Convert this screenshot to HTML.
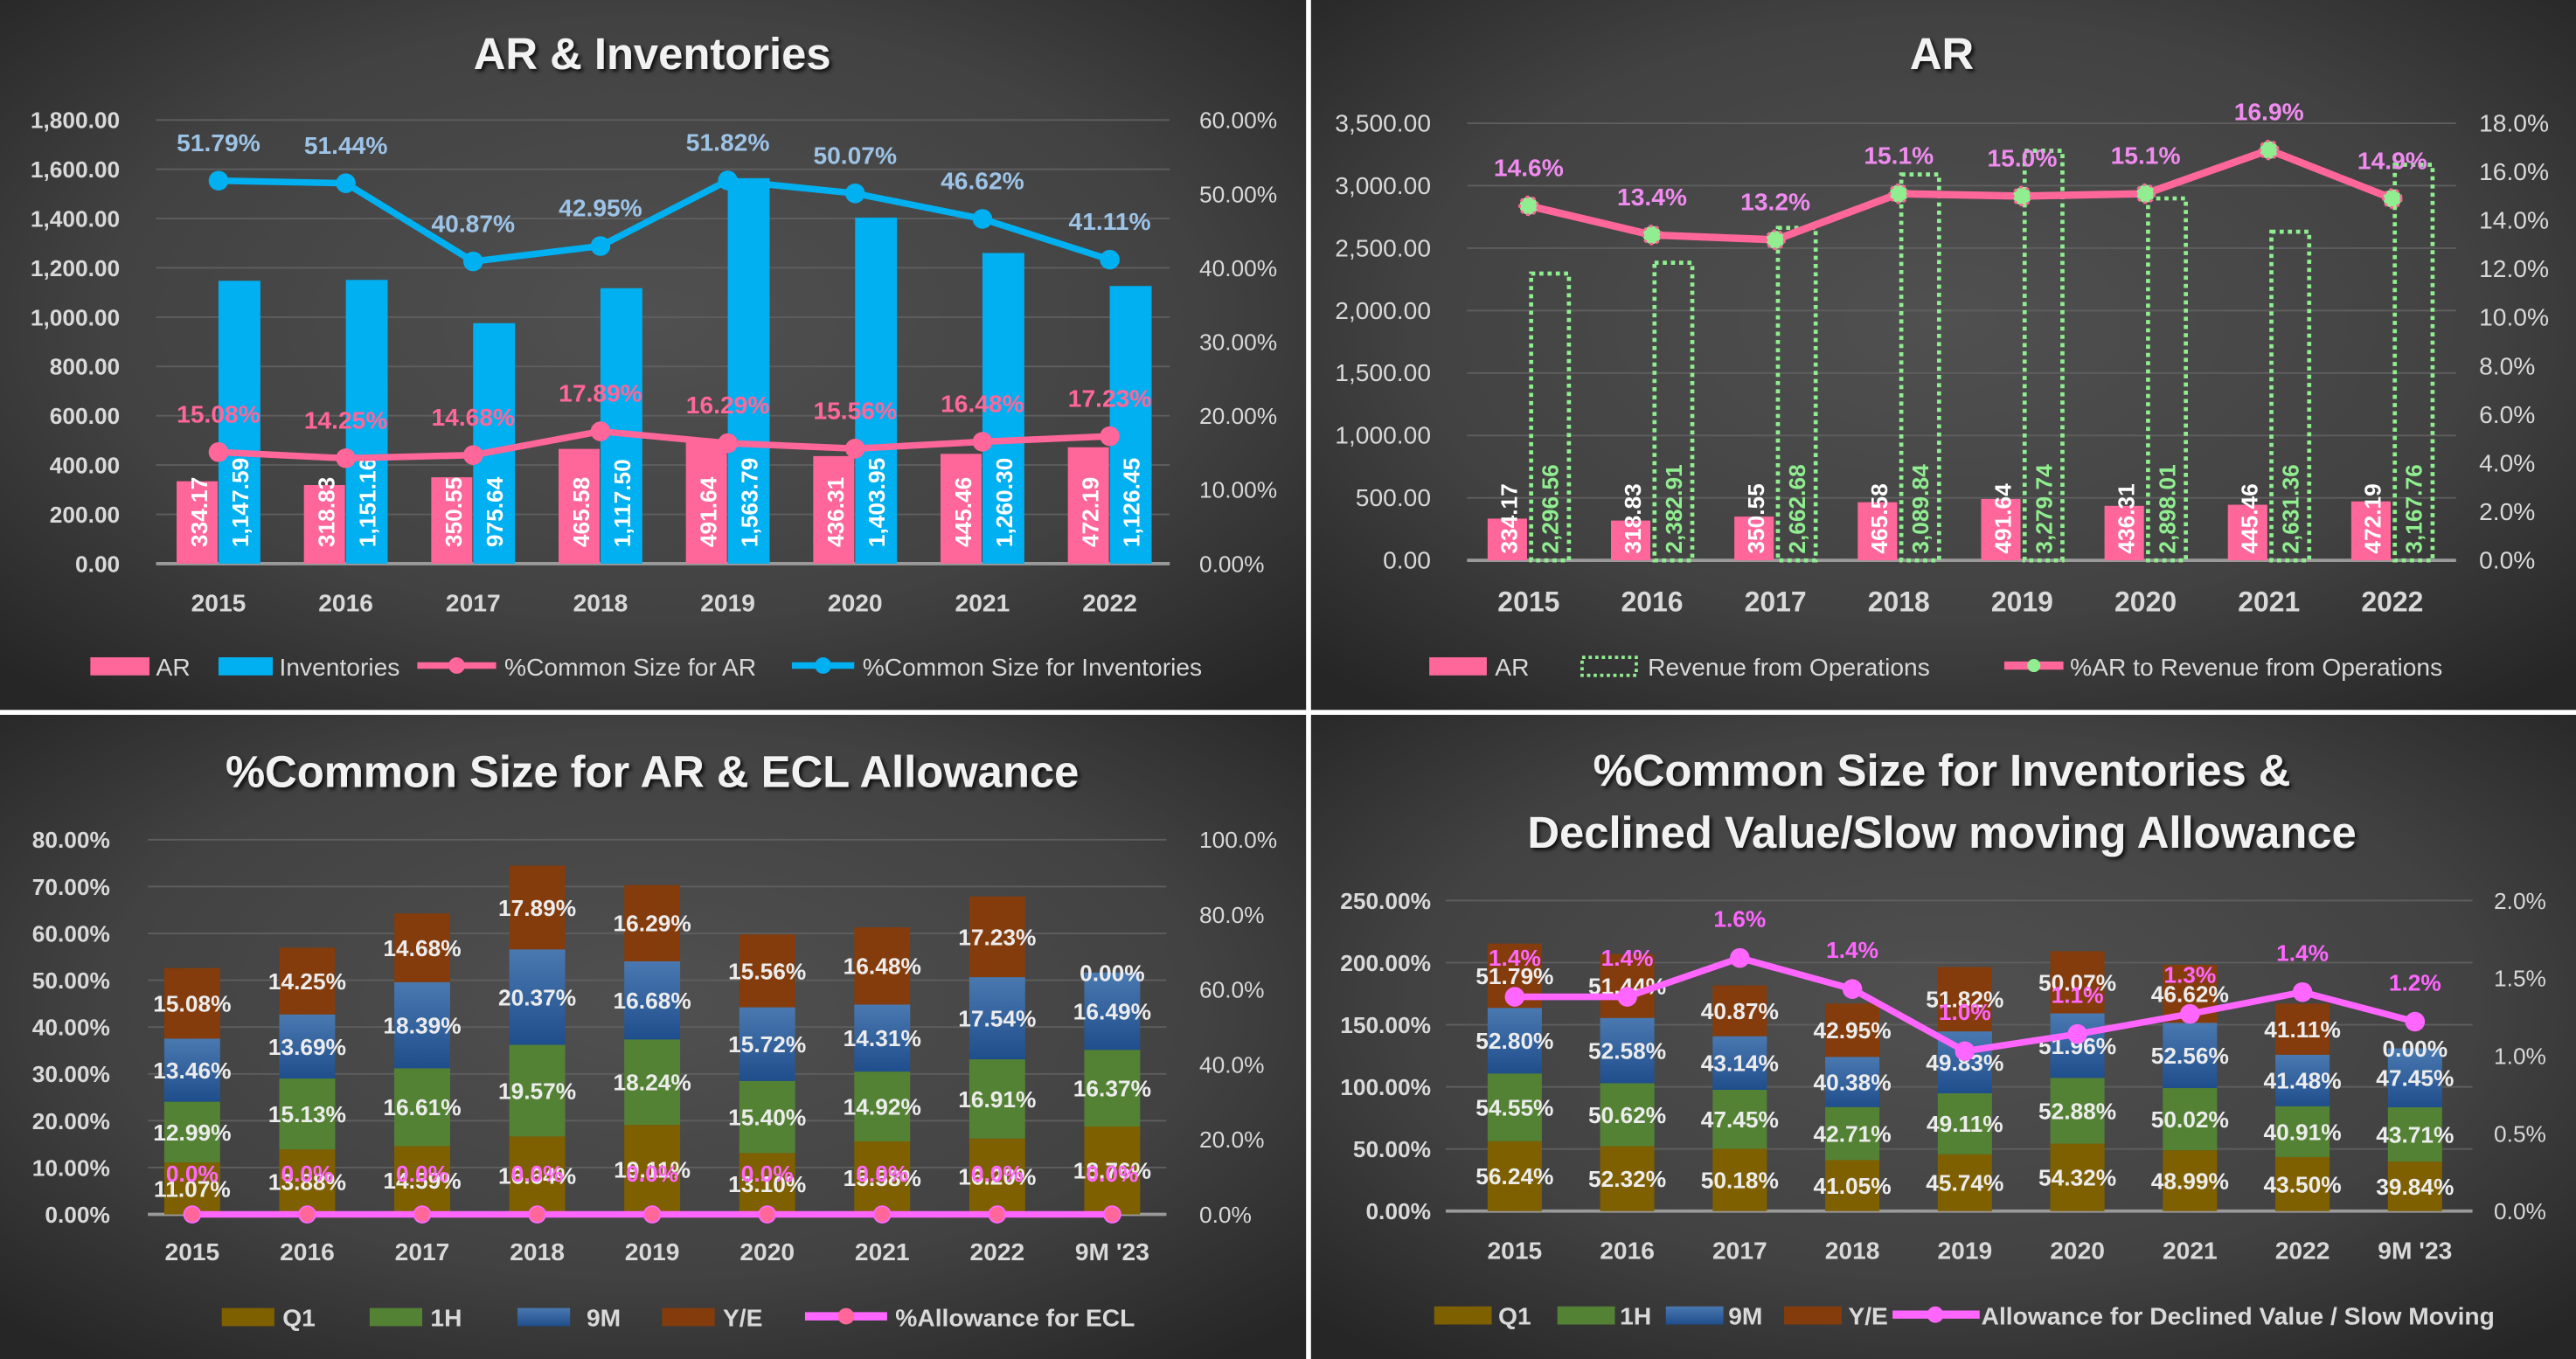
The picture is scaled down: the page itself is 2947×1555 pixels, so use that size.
<!DOCTYPE html>
<html><head><meta charset="utf-8">
<style>
html,body{margin:0;padding:0;background:#2b2b2b;}
svg{display:block;}
text{font-family:"Liberation Sans Narrow","Liberation Sans",sans-serif;}
</style></head>
<body>
<svg id="root" width="2947" height="1555" viewBox="0 0 1568 827" preserveAspectRatio="none" xmlns="http://www.w3.org/2000/svg">
<defs>
<radialGradient id="bg" cx="50%" cy="45%" r="70%">
<stop offset="0" stop-color="#505050"/><stop offset="0.6" stop-color="#424242"/><stop offset="1" stop-color="#262626"/>
</radialGradient>
<linearGradient id="blueG" x1="0" y1="0" x2="0" y2="1"><stop offset="0" stop-color="#4a78b0"/><stop offset="1" stop-color="#1f4e8c"/></linearGradient>
<filter id="sh" x="-10%" y="-10%" width="120%" height="130%"><feDropShadow dx="1.5" dy="1.5" stdDeviation="1.2" flood-color="#000" flood-opacity="0.8"/></filter>
</defs>
<rect x="0" y="0" width="1568" height="827" fill="#ffffff"/>
<rect x="0" y="0" width="795" height="432" fill="url(#bg)"/>
<rect x="798" y="0" width="770" height="432" fill="url(#bg)"/>
<rect x="0" y="435" width="795" height="392" fill="url(#bg)"/>
<rect x="798" y="435" width="770" height="392" fill="url(#bg)"/>
<g id="g"></g>
</svg>
<script>
// ---- Chart 1: AR & Inventories ----
const c1Cats = ['2015','2016','2017','2018','2019','2020','2021','2022'];
const c1AR = [334.17,318.83,350.55,465.58,491.64,436.31,445.46,472.19];
const c1Inv = [1147.59,1151.16,975.64,1117.50,1563.79,1403.95,1260.30,1126.45];
const c1PctAR = [15.08,14.25,14.68,17.89,16.29,15.56,16.48,17.23];
const c1PctInv = [51.79,51.44,40.87,42.95,51.82,50.07,46.62,41.11];
const c1LeftTicks = [0,200,400,600,800,1000,1200,1400,1600,1800];
const c1RightTicks = [0,10,20,30,40,50,60];
// ---- Chart 2: AR vs Revenue ----
const c2Cats = ['2015','2016','2017','2018','2019','2020','2021','2022'];
const c2AR = [334.17,318.83,350.55,465.58,491.64,436.31,445.46,472.19];
const c2Rev = [2296.56,2382.91,2662.68,3089.84,3279.74,2898.01,2631.36,3167.76];
const c2Pct = [14.6,13.4,13.2,15.1,15.0,15.1,16.9,14.9];
const c2LeftTicks = [0,500,1000,1500,2000,2500,3000,3500];
const c2RightTicks = [0,2,4,6,8,10,12,14,16,18];
// ---- Chart 3: %Common size AR & ECL ----
const c3Cats = ['2015','2016','2017','2018','2019','2020','2021','2022',"9M '23"];
const c3Q1 = [11.07,13.88,14.59,16.64,19.11,13.10,15.58,16.20,18.76];
const c3H1 = [12.99,15.13,16.61,19.57,18.24,15.40,14.92,16.91,16.37];
const c3M9 = [13.46,13.69,18.39,20.37,16.68,15.72,14.31,17.54,16.49];
const c3YE = [15.08,14.25,14.68,17.89,16.29,15.56,16.48,17.23,0.00];
const c3ECL = [0,0,0,0,0,0,0,0,0];
const c3LeftTicks = [0,10,20,30,40,50,60,70,80];
const c3RightTicks = [0,20,40,60,80,100];
// ---- Chart 4: %Common size Inventories & allowance ----
const c4Cats = ['2015','2016','2017','2018','2019','2020','2021','2022',"9M '23"];
const c4Q1 = [56.24,52.32,50.18,41.05,45.74,54.32,48.99,43.50,39.84];
const c4H1 = [54.55,50.62,47.45,42.71,49.11,52.88,50.02,40.91,43.71];
const c4M9 = [52.80,52.58,43.14,40.38,49.83,51.96,52.56,41.48,47.45];
const c4YE = [51.79,51.44,40.87,42.95,51.82,50.07,46.62,41.11,0.00];
const c4Allow = [1.38,1.38,1.63,1.43,1.03,1.14,1.27,1.41,1.22];
const c4LeftTicks = [0,50,100,150,200,250];
const c4RightTicks = [0,0.5,1.0,1.5,2.0];

const NS='http://www.w3.org/2000/svg';
const G=document.getElementById('g');
function mk(tag,attrs,name,parent){
  const el=document.createElementNS(NS,tag);
  for(const k in attrs) el.setAttribute(k,attrs[k]);
  
  
  (parent||G).appendChild(el);
  return el;
}
function txt(x,y,s,attrs,name){
  const a=Object.assign({x:x,y:y,fill:'#d9d9d9','font-size':14,'font-weight':'bold','text-anchor':'middle'},attrs||{});
  const t=mk('text',a,name);
  t.textContent=s;
  return t;
}
function fmt(v,d){return v.toLocaleString('en-US',{minimumFractionDigits:d,maximumFractionDigits:d});}
function title(x,y,s,name){txt(x,y,s,{fill:'#f2f2f2','font-size':27,'font-family':'"Liberation Sans",sans-serif',filter:'url(#sh)'},name);}
function grid(x1,x2,ticks,yf,name){
  ticks.forEach((t,i)=>{mk('line',{x1:x1,x2:x2,y1:yf(t),y2:yf(t),stroke:i===0?'#9a9a9a':'#5e5e5e','stroke-width':i===0?2:1},name);});
}
function lineSeries(pts,color,w,name){
  mk('polyline',{points:pts.map(p=>p.join(',')).join(' '),fill:'none',stroke:color,'stroke-width':w,'stroke-linejoin':'round'},name);
}

// ===== Chart 1 =====
(function(){
  const x0=95,x1=712,y0=343,yT=73;
  const yL=v=>y0-v/1800*(y0-yT), yR=v=>y0-v/60*(y0-yT);
  const cx=i=>133+i*77.5;
  title(397,42,'AR & Inventories','title-ar-inventories');
  grid(x0,x1,c1LeftTicks,yL,'gridline');
  c1LeftTicks.forEach(t=>txt(73,yL(t)+5,fmt(t,2),{'text-anchor':'end'},'y-axis-left-tick'));
  c1RightTicks.forEach(t=>txt(730,yR(t)+5,fmt(t,2)+'%',{'text-anchor':'start','font-weight':'normal'},'y-axis-right-tick'));
  c1Cats.forEach((c,i)=>{
    mk('rect',{x:cx(i)-25.5,y:yL(c1AR[i]),width:25,height:y0-yL(c1AR[i]),fill:'#ff6699'},'bar-ar-'+c);
    mk('rect',{x:cx(i),y:yL(c1Inv[i]),width:25.5,height:y0-yL(c1Inv[i]),fill:'#00b0f0'},'bar-inventories-'+c);
    txt(0,0,fmt(c1AR[i],2),{transform:`translate(${cx(i)-7},${y0-10}) rotate(-90)`,'text-anchor':'start',fill:'#fff','font-size':14,'font-family':'"Liberation Sans",sans-serif'},'label-ar-'+c);
    txt(0,0,fmt(c1Inv[i],2),{transform:`translate(${cx(i)+18},${y0-10}) rotate(-90)`,'text-anchor':'start',fill:'#fff','font-size':14,'font-family':'"Liberation Sans",sans-serif'},'label-inventories-'+c);
    txt(cx(i),372,c,{fill:'#d9d9d9','font-size':15},'x-axis-label');
  });
  const pa=c1PctAR.map((v,i)=>[cx(i),yR(v)]), pi=c1PctInv.map((v,i)=>[cx(i),yR(v)]);
  lineSeries(pa,'#ff6699',4,'line-common-size-ar');
  lineSeries(pi,'#00b0f0',4,'line-common-size-inventories');
  pa.forEach((p,i)=>{mk('circle',{cx:p[0],cy:p[1],r:6,fill:'#ff6699'},'point-common-size-ar');txt(p[0],p[1]-18,fmt(c1PctAR[i],2)+'%',{fill:'#ff6699','font-size':15},'label-common-size-ar');});
  pi.forEach((p,i)=>{mk('circle',{cx:p[0],cy:p[1],r:6,fill:'#00b0f0'},'point-common-size-inventories');txt(p[0],p[1]-18,fmt(c1PctInv[i],2)+'%',{fill:'#9dc3e6','font-size':15},'label-common-size-inventories');});
  // legend
  mk('rect',{x:55,y:400,width:36,height:11,fill:'#ff6699'},'legend-ar');
  txt(95,411,'AR',{'text-anchor':'start','font-weight':'normal','font-size':15},'legend-ar-text');
  mk('rect',{x:133,y:400,width:33,height:11,fill:'#00b0f0'},'legend-inventories');
  txt(170,411,'Inventories',{'text-anchor':'start','font-weight':'normal','font-size':15},'legend-inventories-text');
  mk('line',{x1:254,x2:302,y1:405,y2:405,stroke:'#ff6699','stroke-width':4},'legend-common-size-ar');
  mk('circle',{cx:278,cy:405,r:5,fill:'#ff6699'},'legend-common-size-ar-marker');
  txt(307,411,'%Common Size for AR',{'text-anchor':'start','font-weight':'normal','font-size':15},'legend-common-size-ar-text');
  mk('line',{x1:482,x2:520,y1:405,y2:405,stroke:'#00b0f0','stroke-width':4},'legend-common-size-inv');
  mk('circle',{cx:501,cy:405,r:5,fill:'#00b0f0'},'legend-common-size-inv-marker');
  txt(525,411,'%Common Size for Inventories',{'text-anchor':'start','font-weight':'normal','font-size':15},'legend-common-size-inv-text');
})();

// ===== Chart 2 =====
(function(){
  const x0=893,x1=1495,y0=341,yT=75;
  const yL=v=>y0-v/3500*(y0-yT), yR=v=>y0-v/18*(y0-yT);
  const cx=i=>930.5+i*75.1;
  title(1182,42,'AR','title-ar');
  grid(x0,x1,c2LeftTicks,yL,'gridline');
  c2LeftTicks.forEach(t=>txt(871,yL(t)+5,fmt(t,2),{'text-anchor':'end','font-weight':'normal','font-size':15},'y-axis-left-tick'));
  c2RightTicks.forEach(t=>txt(1509,yR(t)+5,fmt(t,1)+'%',{'text-anchor':'start','font-weight':'normal','font-size':15},'y-axis-right-tick'));
  c2Cats.forEach((c,i)=>{
    mk('rect',{x:cx(i)-25,y:yL(c2AR[i]),width:24,height:y0-yL(c2AR[i]),fill:'#ff6699'},'bar-ar-'+c);
    mk('rect',{x:cx(i)+1.5,y:yL(c2Rev[i]),width:23,height:y0-yL(c2Rev[i]),fill:'none',stroke:'#90ee90','stroke-width':2.5,'stroke-dasharray':'2.5 2.5'},'bar-revenue-'+c);
    txt(0,0,fmt(c2AR[i],2),{transform:`translate(${cx(i)-7},${y0-4}) rotate(-90)`,'text-anchor':'start',fill:'#fff','font-size':14,'font-family':'"Liberation Sans",sans-serif'},'label-ar-'+c);
    txt(0,0,fmt(c2Rev[i],2),{transform:`translate(${cx(i)+18},${y0-4}) rotate(-90)`,'text-anchor':'start',fill:'#90ee90','font-size':14,'font-family':'"Liberation Sans",sans-serif'},'label-revenue-'+c);
    txt(cx(i),372,c,{fill:'#d9d9d9','font-size':17},'x-axis-label');
  });
  const pp=c2Pct.map((v,i)=>[cx(i),yR(v)]);
  lineSeries(pp,'#ff6699',4.5,'line-ar-to-revenue');
  pp.forEach((p,i)=>{
    mk('circle',{cx:p[0],cy:p[1],r:5.5,fill:'#90ee90',stroke:'#ff6699','stroke-width':1.5,'stroke-dasharray':'2 2'},'point-ar-to-revenue');
    txt(p[0],p[1]-18,fmt(c2Pct[i],1)+'%',{fill:'#f08cf0','font-size':15},'label-ar-to-revenue');
  });
  mk('rect',{x:870,y:400,width:35,height:11,fill:'#ff6699'},'legend-ar');
  txt(910,411,'AR',{'text-anchor':'start','font-weight':'normal','font-size':15},'legend-ar-text');
  mk('rect',{x:963,y:400,width:33,height:11,fill:'none',stroke:'#90ee90','stroke-width':2,'stroke-dasharray':'2 2'},'legend-revenue');
  txt(1003,411,'Revenue from Operations',{'text-anchor':'start','font-weight':'normal','font-size':15},'legend-revenue-text');
  mk('line',{x1:1220,x2:1256,y1:405,y2:405,stroke:'#ff6699','stroke-width':5},'legend-ar-to-revenue');
  mk('circle',{cx:1238,cy:405,r:4,fill:'#90ee90'},'legend-ar-to-revenue-marker');
  txt(1260,411,'%AR to Revenue from Operations',{'text-anchor':'start','font-weight':'normal','font-size':15},'legend-ar-to-revenue-text');
})();

function stacked(cats,series,colors,names,yL,cx,bw,y0,fs){
  cats.forEach((c,i)=>{
    let acc=0;
    series.forEach((s,k)=>{
      const v=s[i];
      const top=yL(acc+v), bot=yL(acc);
      if(v>0) mk('rect',{x:cx(i)-bw/2,y:top,width:bw,height:bot-top,fill:colors[k]},'bar-'+names[k]+'-'+c);
      txt(cx(i),(top+bot)/2+5,fmt(v,2)+'%',{fill:'#ececec','font-size':fs},'label-'+names[k]+'-'+c);
      acc+=v;
    });
  });
}
const stackColors=['#7f6000','#548235','url(#blueG)','#843c0c'];

// ===== Chart 3 =====
(function(){
  const x0=90,x1=710,y0=739,yT=511;
  const yL=v=>y0-v/80*(y0-yT), yR=v=>y0-v/100*(y0-yT);
  const cx=i=>117+i*70;
  title(397,479,'%Common Size for AR & ECL Allowance','title-ar-ecl');
  grid(x0,x1,c3LeftTicks,yL,'gridline');
  c3LeftTicks.forEach(t=>txt(67,yL(t)+5,fmt(t,2)+'%',{'text-anchor':'end','font-size':14},'y-axis-left-tick'));
  c3RightTicks.forEach(t=>txt(730,yR(t)+5,fmt(t,1)+'%',{'text-anchor':'start','font-weight':'normal','font-size':14},'y-axis-right-tick'));
  stacked(c3Cats,[c3Q1,c3H1,c3M9,c3YE],stackColors,['q1','1h','9m','ye'],yL,cx,34,y0,14);
  c3Cats.forEach((c,i)=>txt(cx(i),767,c,{'font-size':15},'x-axis-label'));
  const pp=c3ECL.map((v,i)=>[cx(i),yR(v)]);
  lineSeries(pp,'#ff66ff',4,'line-allowance-ecl');
  pp.forEach((p,i)=>{
    mk('circle',{cx:p[0],cy:p[1],r:5,fill:'#ff6699',stroke:'#ff66ff','stroke-width':1},'point-allowance-ecl');
    txt(p[0],p[1]-20,fmt(c3ECL[i],1)+'%',{fill:'#ff66ff','font-size':14},'label-allowance-ecl');
  });
  const lg=[[135,'Q1',172],[225,'1H',262],[315,'9M',357],[403,'Y/E',440]];
  lg.forEach((l,k)=>{mk('rect',{x:l[0],y:796,width:32,height:11,fill:stackColors[k]},'legend-'+l[1]);txt(l[2],807,l[1],{'text-anchor':'start','font-size':15},'legend-text');});
  mk('line',{x1:490,x2:540,y1:801,y2:801,stroke:'#ff66ff','stroke-width':5},'legend-allowance-ecl');
  mk('circle',{cx:515,cy:801,r:5,fill:'#ff6699'},'legend-allowance-ecl-marker');
  txt(545,807,'%Allowance for ECL',{'text-anchor':'start','font-size':15},'legend-allowance-ecl-text');
})();

// ===== Chart 4 =====
(function(){
  const x0=880,x1=1505,y0=737,yT=548;
  const yL=v=>y0-v/250*(y0-yT), yR=v=>y0-v/2*(y0-yT);
  const cx=i=>922+i*68.5;
  title(1182,478,'%Common Size for Inventories &','title-inventories-line1');
  title(1182,516,'Declined Value/Slow moving Allowance','title-inventories-line2');
  grid(x0,x1,c4LeftTicks,yL,'gridline');
  c4LeftTicks.forEach(t=>txt(871,yL(t)+5,fmt(t,2)+'%',{'text-anchor':'end','font-size':14},'y-axis-left-tick'));
  c4RightTicks.forEach(t=>txt(1518,yR(t)+5,fmt(t,1)+'%',{'text-anchor':'start','font-weight':'normal','font-size':14},'y-axis-right-tick'));
  stacked(c4Cats,[c4Q1,c4H1,c4M9,c4YE],stackColors,['q1','1h','9m','ye'],yL,cx,33,y0,14);
  c4Cats.forEach((c,i)=>txt(cx(i),766,c,{'font-size':15},'x-axis-label'));
  const pp=c4Allow.map((v,i)=>[cx(i),yR(v)]);
  lineSeries(pp,'#ff66ff',4,'line-allowance-inventories');
  pp.forEach((p,i)=>{
    mk('circle',{cx:p[0],cy:p[1],r:6,fill:'#ff66ff'},'point-allowance-inventories');
    txt(p[0],p[1]-19,fmt(c4Allow[i],1)+'%',{fill:'#ff66ff','font-size':14},'label-allowance-inventories');
  });
  const lg=[[873,'Q1',912],[948,'1H',986],[1014,'9M',1052],[1086,'Y/E',1125]];
  lg.forEach((l,k)=>{mk('rect',{x:l[0],y:795,width:35,height:11,fill:stackColors[k]},'legend-'+l[1]);txt(l[2],806,l[1],{'text-anchor':'start','font-size':15},'legend-text');});
  mk('line',{x1:1152,x2:1205,y1:800,y2:800,stroke:'#ff66ff','stroke-width':5},'legend-allowance-inventories');
  mk('circle',{cx:1178,cy:800,r:5,fill:'#ff66ff'},'legend-allowance-inventories-marker');
  txt(1206,806,'Allowance for Declined Value / Slow Moving',{'text-anchor':'start','font-size':15},'legend-allowance-inventories-text');
})();
</script>
</body></html>
